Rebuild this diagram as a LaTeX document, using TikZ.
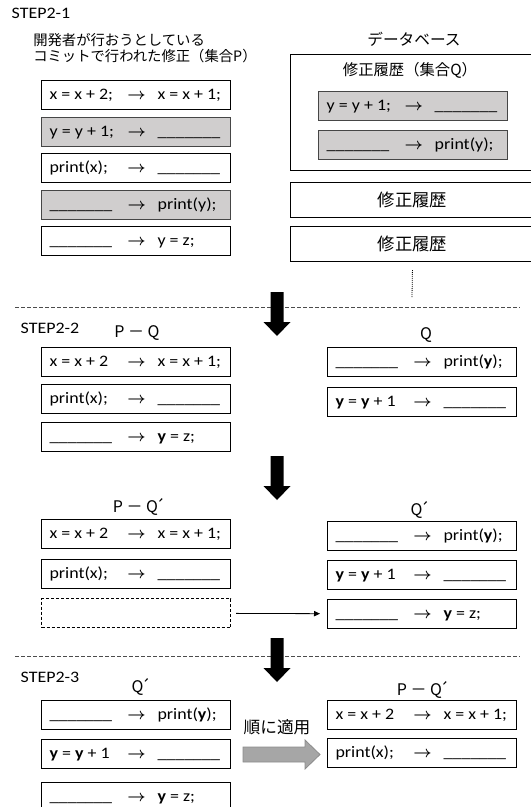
\documentclass[tikz,border=0pt]{standalone}
\usepackage{fontspec}
\setmainfont[FakeStretch=1.12]{Carlito}
\newfontfamily\jp{Noto Sans CJK JP}
\usetikzlibrary{arrows.meta}

\definecolor{shade}{RGB}{208,206,206}
\definecolor{edgegray}{RGB}{70,70,70}

\newcommand{\blank}{\_\_\_\_\_\_\_}
\newcommand{\by}{\textbf{y}}
\newcommand{\qd}{Q\kern-2pt´}
\newcommand{\fixrow}[2]{\makebox[57pt][l]{#1}\makebox[16.5pt]{\boldmath$\rightarrow$}\hspace{7.5pt}\makebox[48.75pt][l]{#2}}

\tikzset{
    stepdown/.pic={\fill (-6.5,0) -- (6.5,0) -- (6.5,30) -- (13.5,30) -- (0,44)
                         -- (-13.5,30) -- (-6.5,30) -- cycle;}
}

\begin{document}
\begin{tikzpicture}[x=0.75pt,y=-0.75pt,
        font=\fontsize{12}{14}\selectfont,
        row/.style={draw,line width=0.8pt,rectangle,anchor=north west,
                    minimum width=141.75pt,minimum height=21.75pt,
                    inner xsep=6pt,inner ysep=0pt,text height=9pt,text depth=3pt},
        hit/.style={row,fill=shade,draw=edgegray,line width=1.1pt},
        gap/.style={row,dash pattern=on 2.25pt off 1.5pt},
        hist/.style={draw,line width=0.8pt,rectangle,anchor=north west,
                     minimum width=183pt,minimum height=26.25pt,
                     font=\jp\fontsize{13}{15}\selectfont},
        head/.style={font=\jp\fontsize{12}{14}\selectfont},
        sep/.style={draw=black!70,line width=0.6pt,dash pattern=on 3pt off 1.5pt}]
    \useasboundingbox (0,0) rectangle (531,807);

    % STEP2-1
    \node[anchor=west] (s1) at (7,13) {STEP2-1};
    \node[anchor=north west,align=left,inner sep=0pt,
          font=\jp\fontsize{10.75}{12}\selectfont] (ptitle) at (33,33)
          {開発者が行おうとしている\\コミットで行われた修正（集合P）};

    \node[row] (p1) at (41,80)  {\fixrow{x = x + 2;}{x = x + 1;}};
    \node[hit] (p2) at (41,117) {\fixrow{y = y + 1;}{\blank}};
    \node[row] (p3) at (41,153) {\fixrow{print(x);}{\blank}};
    \node[hit] (p4) at (41,190) {\fixrow{\blank}{print(y);}};
    \node[row] (p5) at (41,226) {\fixrow{\blank}{y = z;}};

    \node[font=\jp\fontsize{11.75}{14}\selectfont] (dbname) at (414,39) {データベース};
    \node[draw,line width=0.8pt,anchor=north west,minimum width=183pt,
          minimum height=87pt] (db) at (290,54) {};
    \node[font=\jp\fontsize{11.5}{14}\selectfont] (qname) at (410,70) {修正履歴（集合Q）};
    \node[hit] (q1) at (318,91)  {\fixrow{y = y + 1;}{\blank}};
    \node[hit] (q2) at (318,130) {\fixrow{\blank}{print(y);}};
    \node[hist] (h1) at (290,182) {修正履歴};
    \node[hist] (h2) at (290,226) {修正履歴};
    \coordinate (more) at (412,297);
    \draw[line width=0.6pt,dash pattern=on 0.75pt off 0.75pt,shorten <=6pt] (h2.south) -- (more);

    \draw[sep] (15,307) -- (520,307);
    \pic at (277,292) {stepdown};

    % STEP2-2
    \node[anchor=west] (s2) at (16,328) {STEP2-2};
    \node[head] (pq) at (137,333) {P － Q};
    \node[head] (q) at (426,335) {Q};

    \node[row] (a1) at (41,347) {\fixrow{x = x + 2}{x = x + 1;}};
    \node[row] (a2) at (41,384) {\fixrow{print(x);}{\blank}};
    \node[row] (a3) at (41,422) {\fixrow{\blank}{\by{} = z;}};
    \node[row] (b1) at (327,347) {\fixrow{\blank}{print(\by);}};
    \node[row] (b2) at (327,387) {\fixrow{\by{} = \by{} + 1}{\blank}};

    \pic at (277,456) {stepdown};

    \node[head] (pq2) at (139,507) {P － \qd};
    \node[head] (q2name) at (420,510) {\qd};

    \node[row] (c1) at (41,519) {\fixrow{x = x + 2}{x = x + 1;}};
    \node[row] (c2) at (41,559) {\fixrow{print(x);}{\blank}};
    \node[gap] (c3) at (41,598) {};
    \node[row] (d1) at (327,521) {\fixrow{\blank}{print(\by);}};
    \node[row] (d2) at (327,560) {\fixrow{\by{} = \by{} + 1}{\blank}};
    \node[row] (d3) at (327,599) {\fixrow{\blank}{\by{} = z;}};
    \draw[line width=0.6pt,-{Triangle[length=4.5pt,width=4pt]},
          shorten <=3.75pt,shorten >=5.25pt] (c3) -- (d3);

    \draw[sep] (15,656) -- (520,656);
    \pic at (277,638) {stepdown};

    % STEP2-3
    \node[anchor=west] (s3) at (16,677) {STEP2-3};
    \node[head] (q3name) at (141,687) {\qd};
    \node[head] (pq3) at (423,690) {P － \qd};

    \node[row] (e1) at (41,700) {\fixrow{\blank}{print(\by);}};
    \node[row] (e2) at (41,739) {\fixrow{\by{} = \by{} + 1}{\blank}};
    \node[row] (e3) at (41,782) {\fixrow{\blank}{\by{} = z;}};
    \node[row] (f1) at (327,700) {\fixrow{x = x + 2}{x = x + 1;}};
    \node[row] (f2) at (327,738) {\fixrow{print(x);}{\blank}};

    \node[font=\jp\fontsize{12.5}{14}\selectfont] (apply) at (277,727) {順に適用};
    \draw[draw=black!45,fill=black!35,line width=0.6pt,shift={(243,754.5)}]
        (0,-7.5) -- (62,-7.5) -- (62,-14.5) -- (77,0) -- (62,14.5) -- (62,7.5) -- (0,7.5) -- cycle;
\end{tikzpicture}
\end{document}
